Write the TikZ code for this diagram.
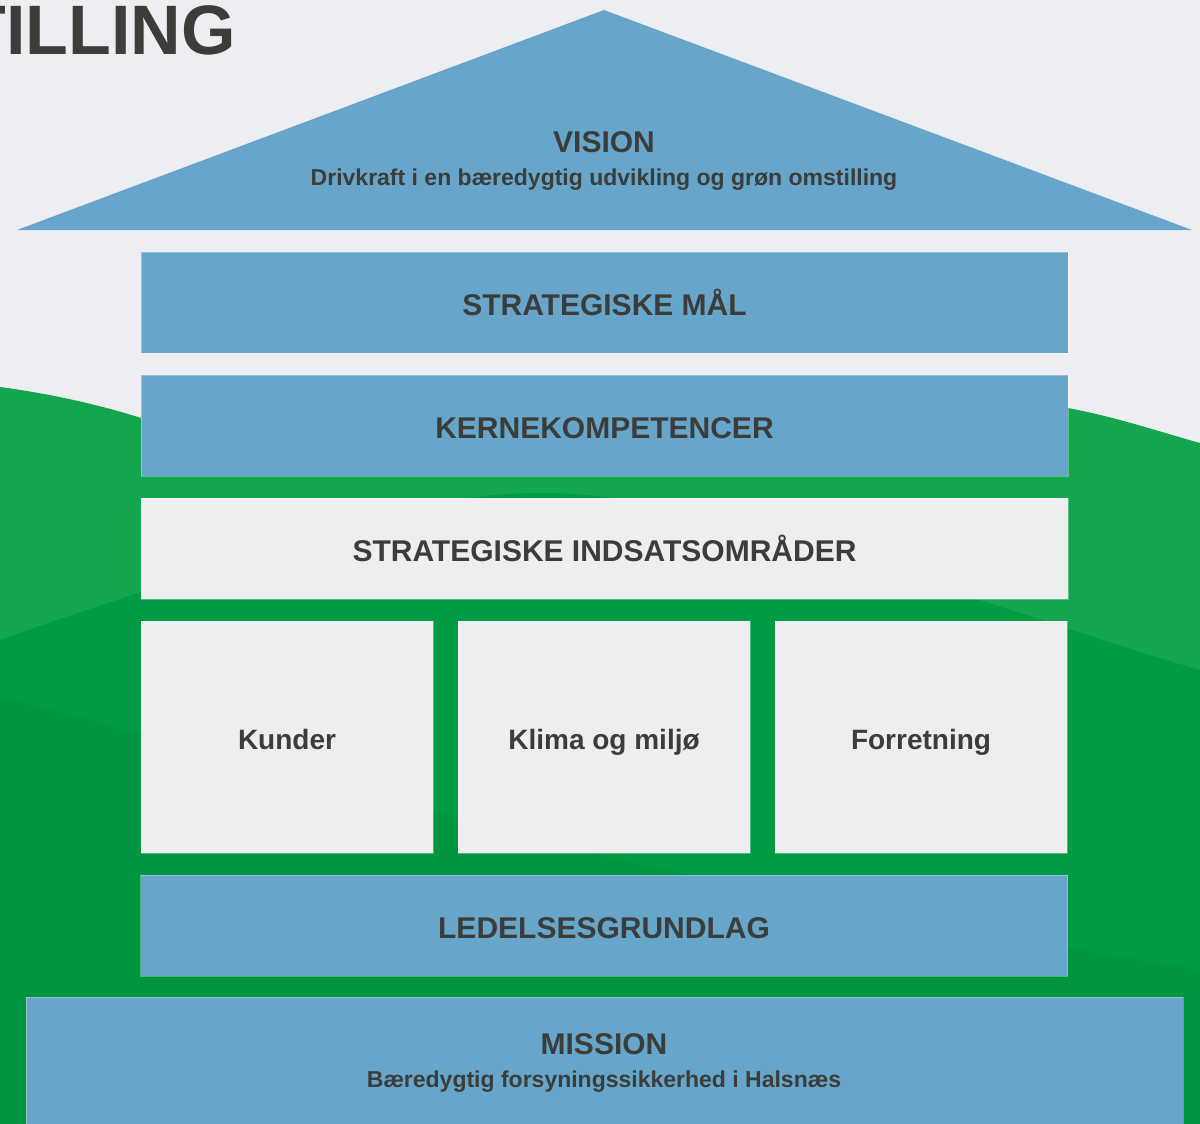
\documentclass[tikz,border=0pt]{standalone}
\usepackage{fontspec}
\setmainfont{Liberation Sans}
\usetikzlibrary{positioning}

\definecolor{paper}{HTML}{EDEEF2}
\definecolor{roofblue}{HTML}{67A6CA}
\definecolor{boxwhite}{HTML}{EEEEF1}
\definecolor{inkgrey}{HTML}{3A3D3A}
\definecolor{hilllight}{HTML}{14A64F}
\definecolor{hilldark}{HTML}{009B42}
\definecolor{hilldeep}{HTML}{00963F}

\newcommand{\sz}[1]{\fontsize{#1}{1.2\dimexpr#1pt\relax}\selectfont}

\tikzset{
  tier/.style={fill=roofblue, draw=white, draw opacity=0.3, line width=0.8pt,
    minimum width=927pt, minimum height=101pt, inner sep=0pt, outer sep=0pt,
    text height=26pt, text depth=0pt,
    text=inkgrey, font=\bfseries\sz{30}},
  tierlight/.style={tier, fill=boxwhite},
  pillar/.style={fill=boxwhite, draw=white, draw opacity=0.3, line width=0.8pt,
    minimum width=292pt, minimum height=232pt, inner sep=0pt, outer sep=0pt,
    text height=24pt, text depth=0pt,
    text=inkgrey, font=\bfseries\sz{28}},
  headtxt/.style={anchor=base, text=inkgrey, font=\bfseries\sz{30}, inner sep=0pt},
  subtxt/.style={anchor=base, text=inkgrey, font=\bfseries\sz{23}, inner sep=0pt},
}

\begin{document}
\begin{tikzpicture}[x=1pt, y=-1pt]

  \useasboundingbox (0,0) rectangle (1200,1124);
  \clip (0,0) rectangle (1200,1124);
  \fill[paper] (0,0) rectangle (1200,1124);

  % landscape behind the house
  \fill[hilllight] (0,387) .. controls (60,395) and (110,408) .. (141,418)
    .. controls (300,462) and (450,462) .. (600,440)
    .. controls (750,414) and (900,392) .. (1068,408)
    .. controls (1120,418) and (1160,432) .. (1200,443)
    -- (1200,1124) -- (0,1124) -- cycle;
  \fill[hilldark] (0,640) .. controls (50,622) and (100,606) .. (141,592)
    .. controls (300,535) and (420,493) .. (543,493)
    .. controls (680,493) and (850,560) .. (976,599)
    .. controls (1050,622) and (1130,650) .. (1200,670)
    -- (1200,1124) -- (0,1124) -- cycle;
  \fill[hilldeep] (0,697) .. controls (300,775) and (600,860) .. (692,875)
    .. controls (900,915) and (1068,950) .. (1200,970)
    -- (1200,1124) -- (0,1124) -- cycle;

  \node[anchor=base east, text=inkgrey, font=\bfseries\sz{70}, inner sep=0pt]
    (title) at (236,55) {TILLING};

  % roof
  \fill[roofblue] (17,230) -- (604,10) -- (1192,230) -- cycle;
  \node[headtxt] (visionhead) at (604,152) {VISION};
  \node[subtxt] (visiontxt) at (604,185)
    {Drivkraft i en bæredygtig udvikling og grøn omstilling};

  % house body
  \node[tier] (goals) at (604.5,302.5) {STRATEGISKE MÅL};
  \node[tier, below=22pt of goals] (core) {KERNEKOMPETENCER};
  \node[tierlight, below=22pt of core] (areas) {STRATEGISKE INDSATSOMRÅDER};

  \node[pillar, below right=22pt and 0pt of areas.south west] (kunder) {Kunder};
  \node[pillar, right=25pt of kunder] (klima) {Klima og miljø};
  \node[pillar, right=25pt of klima] (forretning) {Forretning};

  \node[tier, below=22pt of klima] (lead) {LEDELSESGRUNDLAG};

  % foundation
  \node[tier, minimum width=1157pt, minimum height=150pt] (mission)
    at (604.5,1072) {};
  \node[headtxt] (missionhead) at (604,1054) {MISSION};
  \node[subtxt] (missiontxt) at (604,1087)
    {Bæredygtig forsyningssikkerhed i Halsnæs};

\end{tikzpicture}
\end{document}
